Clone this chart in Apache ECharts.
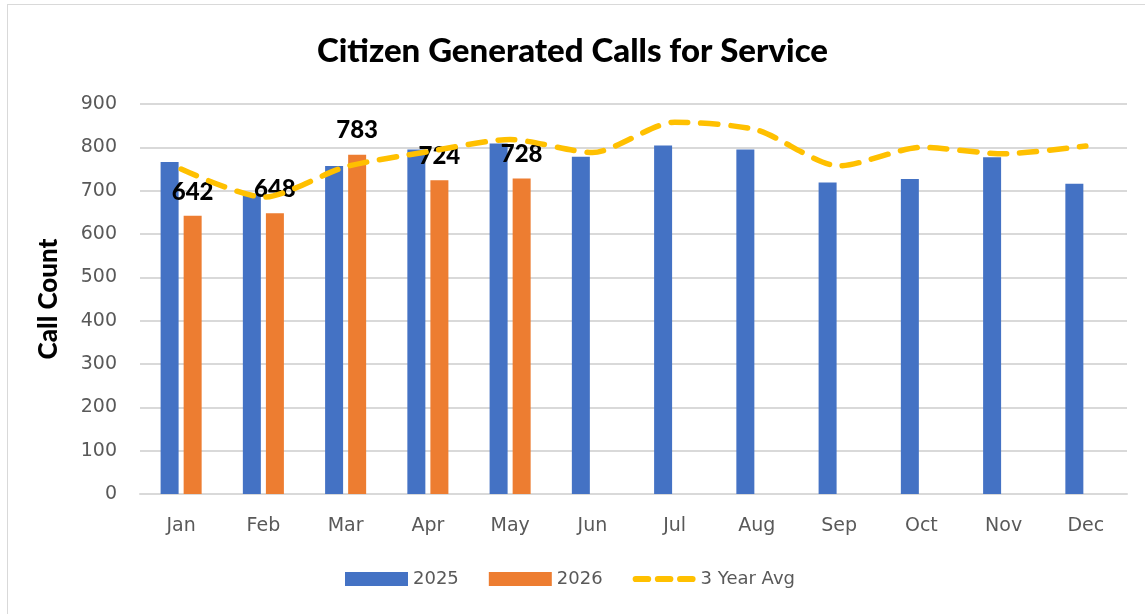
<!DOCTYPE html>
<html>
<head>
<meta charset="utf-8">
<script src="https://cdn.jsdelivr.net/npm/echarts@6/dist/echarts.min.js"></script>
<style>
  html, body { margin: 0; padding: 0; background: #fff; }
  #frame { position: absolute; left: 7px; top: 4px; width: 1145px; height: 620px; border: 1px solid #d9d9d9; box-sizing: border-box; }
  #chart { position: absolute; left: 0; top: 0; width: 1145px; height: 614px; }
</style>
</head>
<body>
<div id="frame"></div>
<div id="chart"></div>
<script>
const months = ['Jan', 'Feb', 'Mar', 'Apr', 'May', 'Jun', 'Jul', 'Aug', 'Sep', 'Oct', 'Nov', 'Dec']
const calls2025 = [766, 693, 757, 795, 809, 778, 804, 795, 719, 727, 777, 716]
const calls2026 = [642, 648, 783, 724, 728]
const avg3yr = [750, 685, 755, 790, 818, 788, 858, 840, 757, 800, 785, 803]

const fontMain = "'DejaVu Sans', 'Open Sans', sans-serif"
const fontBold = "Lato, 'Open Sans', sans-serif"

// three rounded dashes for the legend entry of the average line
const dashIcon = 'path://M3,0 H15 A3,3 0 0 1 15,6 H3 A3,3 0 0 1 3,0 Z ' +
  'M24.5,0 H36.5 A3,3 0 0 1 36.5,6 H24.5 A3,3 0 0 1 24.5,0 Z ' +
  'M46,0 H58 A3,3 0 0 1 58,6 H46 A3,3 0 0 1 46,0 Z'

const chart = echarts.init(document.getElementById('chart'))

chart.setOption({
  animation: false,
  title: {
    text: 'Citizen Generated Calls for Service',
    left: 'center',
    top: 30,
    textStyle: { fontFamily: fontBold, fontSize: 33, fontWeight: 900, color: '#000' },
  },
  grid: { left: 140, right: 18, top: 104, bottom: 120 },
  legend: {
    bottom: 21,
    left: 340,
    itemWidth: 63,
    itemHeight: 14,
    itemGap: 30,
    textStyle: { fontFamily: fontMain, fontSize: 18, color: '#595959' },
    data: [
      { name: '2025', icon: 'rect' },
      { name: '2026', icon: 'rect' },
      { name: '3 Year Avg', icon: dashIcon, itemStyle: { color: '#ffc000' } },
    ],
  },
  xAxis: {
    type: 'category',
    data: months,
    axisLine: { lineStyle: { color: '#d9d9d9', width: 2 } },
    axisTick: { show: false },
    axisLabel: { fontFamily: fontMain, fontSize: 19, color: '#595959', margin: 23 },
  },
  yAxis: {
    type: 'value',
    min: 0,
    max: 900,
    interval: 100,
    name: 'Call Count',
    nameLocation: 'middle',
    nameRotate: 90,
    nameGap: 78,
    nameTextStyle: { fontFamily: fontBold, fontSize: 26, fontWeight: 900, color: '#000' },
    axisLabel: { fontFamily: fontMain, fontSize: 19, color: '#595959', margin: 23 },
    splitLine: { lineStyle: { color: '#d9d9d9', width: 2 } },
  },
  series: [
    {
      name: '2025',
      type: 'bar',
      data: calls2025,
      barWidth: 18,
      barGap: '28%',
      itemStyle: { color: '#4472c4' },
    },
    {
      name: '2026',
      type: 'bar',
      data: calls2026,
      barWidth: 18,
      itemStyle: { color: '#ed7d31' },
      label: {
        show: true,
        position: 'top',
        distance: 12,
        fontFamily: fontBold,
        fontSize: 24,
        fontWeight: 900,
        color: '#000',
      },
    },
    {
      name: '3 Year Avg',
      type: 'line',
      data: avg3yr,
      smooth: 0.25,
      symbol: 'none',
      z: 3,
      lineStyle: { color: '#ffc000', width: 5.5, type: [17, 13], cap: 'round' },
      itemStyle: { color: '#ffc000' },
    },
  ],
})
</script>
</body>
</html>
